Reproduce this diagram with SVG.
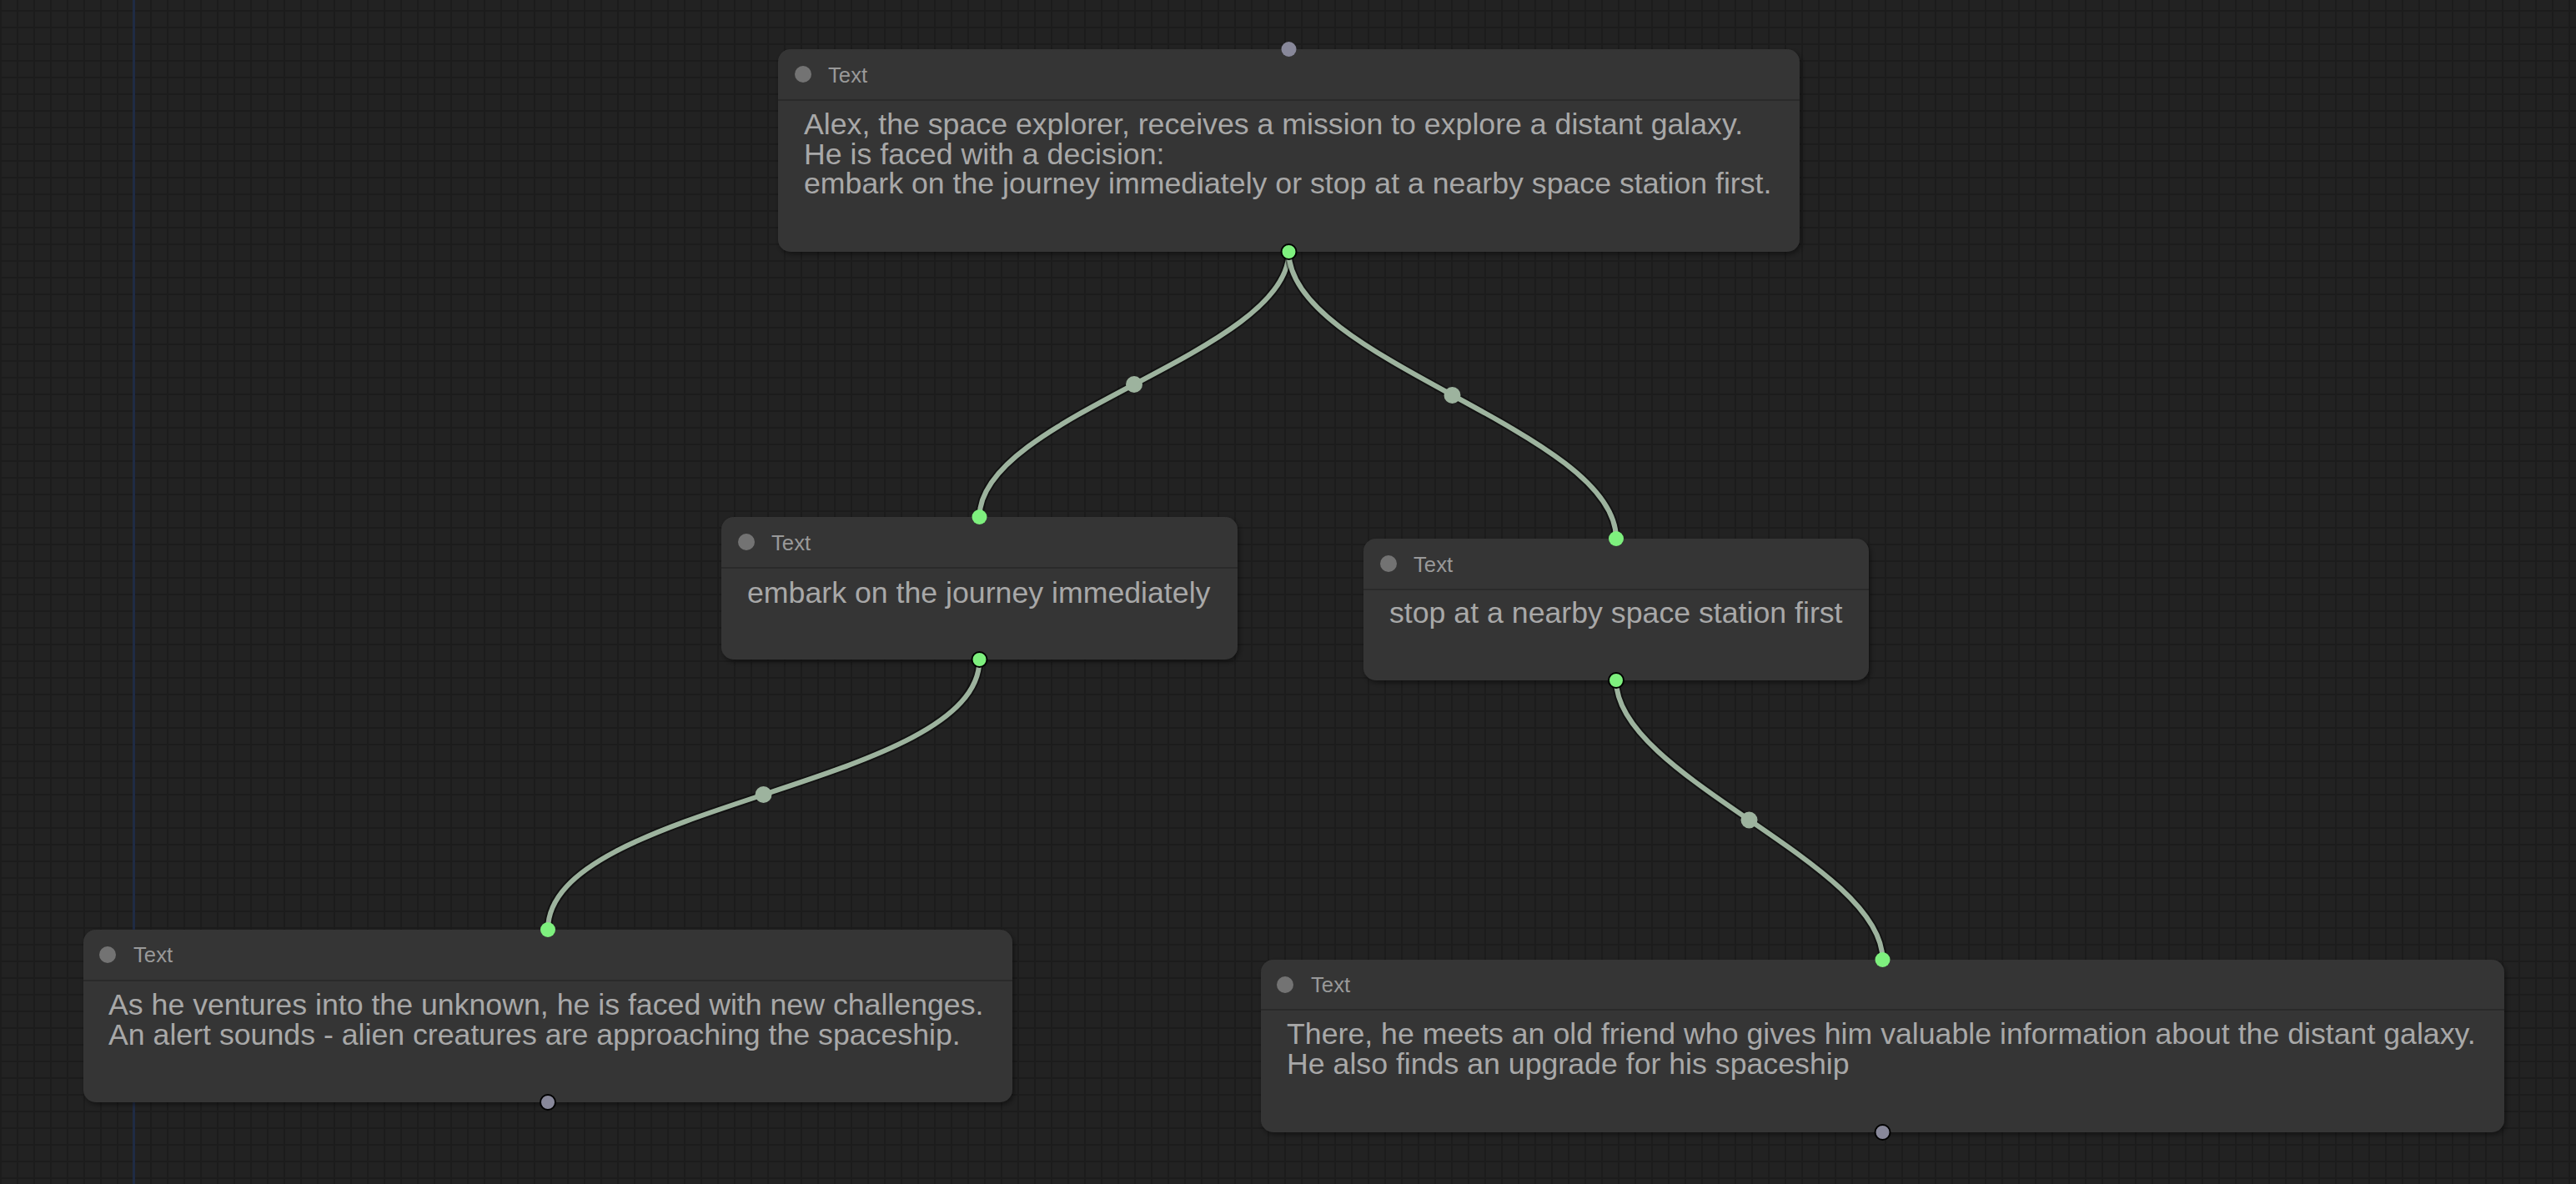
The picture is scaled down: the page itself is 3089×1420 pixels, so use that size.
<svg xmlns="http://www.w3.org/2000/svg" width="3089" height="1420" viewBox="0 0 3089 1420">
<defs>
<pattern id="grid" x="0" y="12" width="20" height="20" patternUnits="userSpaceOnUse">
<rect width="20" height="20" fill="#222222"/>
<rect x="0" y="0" width="20" height="2" fill="#1c1c1c"/>
<rect x="0" y="0" width="2" height="20" fill="#1c1c1c"/>
</pattern>
<filter id="sh" x="-5%" y="-10%" width="110%" height="130%">
<feDropShadow dx="2" dy="3" stdDeviation="3" flood-color="#000" flood-opacity="0.45"/>
</filter>
</defs>
<style>
.node rect.box{fill:#353535;filter:url(#sh)}
.sep{stroke:#2a2a2a;stroke-width:2}
.tdot{fill:#737373}
.title{font-family:"Liberation Sans",Arial,sans-serif;font-size:25.7px;fill:#999999}
.body{font-family:"Liberation Sans",Arial,sans-serif;font-size:35.7px;fill:#a8a8a8}
.link-bg{fill:none;stroke:#000;stroke-opacity:0.45;stroke-width:10}
.link{fill:none;stroke:#9db39e;stroke-width:6}
.mid{fill:#9db39e}
.in-on{fill:#7ef07e}
.out-on{fill:#7ef07e;stroke:#000;stroke-width:2}
.in-off{fill:#88889a}
.out-off{fill:#88889a;stroke:#000;stroke-width:2}
</style>
<rect width="3089" height="1420" fill="url(#grid)"/>
<rect x="159" y="0" width="3" height="1420" fill="#1f2b44"/>

<g id="connectors">
<path class="link-bg" d="M1545.5,302 C1545.5,424 1174.5,498 1174.5,620"/>
<path class="link" d="M1545.5,302 C1545.5,424 1174.5,498 1174.5,620"/>
<path class="link-bg" d="M1545.5,302 C1545.5,432 1938,516 1938,646"/>
<path class="link" d="M1545.5,302 C1545.5,432 1938,516 1938,646"/>
<path class="link-bg" d="M1174.5,791 C1174.5,944 657,962 657,1115"/>
<path class="link" d="M1174.5,791 C1174.5,944 657,962 657,1115"/>
<path class="link-bg" d="M1938,816 C1938,932 2257.5,1035 2257.5,1151"/>
<path class="link" d="M1938,816 C1938,932 2257.5,1035 2257.5,1151"/>
<circle class="mid" cx="1360" cy="461" r="10"/>
<circle class="mid" cx="1741.5" cy="474" r="10"/>
<circle class="mid" cx="915.5" cy="953" r="10"/>
<circle class="mid" cx="2097.5" cy="983.5" r="10"/>
</g>

<g id="node1" class="node">
<rect class="box" x="933" y="59" width="1225" height="243" rx="15"/>
<line class="sep" x1="933" y1="120" x2="2158" y2="120"/>
<circle class="tdot" cx="963" cy="89" r="10"/>
<text class="title" x="993" y="99">Text</text>
<text class="body" x="964" y="161">Alex, the space explorer, receives a mission to explore a distant galaxy.</text>
<text class="body" x="964" y="197">He is faced with a decision:</text>
<text class="body" x="964" y="232">embark on the journey immediately or stop at a nearby space station first.</text>
<circle class="in-off" cx="1545.5" cy="59" r="9"/>
<circle class="out-on" cx="1545.5" cy="302" r="9"/>
</g>

<g id="node2" class="node">
<rect class="box" x="865" y="620" width="619" height="171" rx="15"/>
<line class="sep" x1="865" y1="681" x2="1484" y2="681"/>
<circle class="tdot" cx="895" cy="650" r="10"/>
<text class="title" x="925" y="660">Text</text>
<text class="body" x="896" y="723">embark on the journey immediately</text>
<circle class="in-on" cx="1174.5" cy="620" r="9"/>
<circle class="out-on" cx="1174.5" cy="791" r="9"/>
</g>

<g id="node3" class="node">
<rect class="box" x="1635" y="646" width="606" height="170" rx="15"/>
<line class="sep" x1="1635" y1="707" x2="2241" y2="707"/>
<circle class="tdot" cx="1665" cy="676" r="10"/>
<text class="title" x="1695" y="686">Text</text>
<text class="body" x="1666" y="747">stop at a nearby space station first</text>
<circle class="in-on" cx="1938" cy="646" r="9"/>
<circle class="out-on" cx="1938" cy="816" r="9"/>
</g>

<g id="node4" class="node">
<rect class="box" x="100" y="1115" width="1114" height="207" rx="15"/>
<line class="sep" x1="100" y1="1176" x2="1214" y2="1176"/>
<circle class="tdot" cx="129" cy="1145" r="10"/>
<text class="title" x="160" y="1154">Text</text>
<text class="body" x="130" y="1217">As he ventures into the unknown, he is faced with new challenges.</text>
<text class="body" x="130" y="1253">An alert sounds - alien creatures are approaching the spaceship.</text>
<circle class="in-on" cx="657" cy="1115" r="9"/>
<circle class="out-off" cx="657" cy="1322" r="9"/>
</g>

<g id="node5" class="node">
<rect class="box" x="1512" y="1151" width="1491" height="207" rx="15"/>
<line class="sep" x1="1512" y1="1211" x2="3003" y2="1211"/>
<circle class="tdot" cx="1541" cy="1181" r="10"/>
<text class="title" x="1572" y="1190">Text</text>
<text class="body" x="1543" y="1252">There, he meets an old friend who gives him valuable information about the distant galaxy.</text>
<text class="body" x="1543" y="1288">He also finds an upgrade for his spaceship</text>
<circle class="in-on" cx="2257.5" cy="1151" r="9"/>
<circle class="out-off" cx="2257.5" cy="1358" r="9"/>
</g>
</svg>
